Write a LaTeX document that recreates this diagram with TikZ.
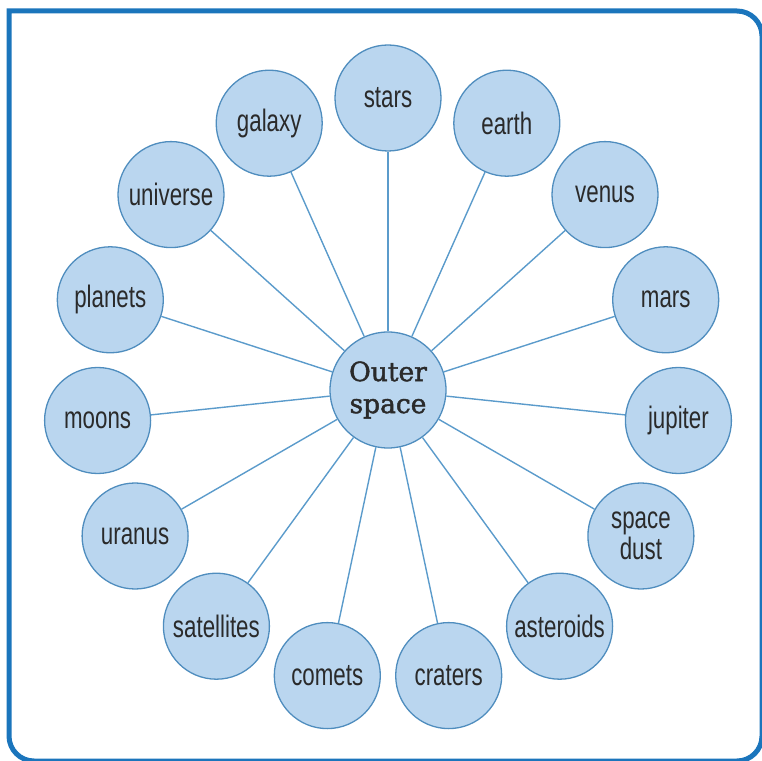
\documentclass[tikz,border=0pt]{standalone}
\usepackage{fontspec}
\usepackage{tikz}
\usetikzlibrary{positioning}
\newfontfamily\topicfont{Liberation Sans}[FakeStretch=0.72]
\newfontfamily\hubfont{DejaVu Serif}[FakeBold=1.6]
\definecolor{bubblefill}{HTML}{BAD6EF}
\definecolor{bubbleline}{HTML}{4F8DBE}
\definecolor{spokeline}{HTML}{5B9BCB}
\definecolor{frameblue}{HTML}{1B75BC}
\definecolor{inkgray}{HTML}{2A2A2A}

\tikzset{
topic/.style={circle, draw=bubbleline, fill=bubblefill, line width=1.3pt,
  minimum size=106pt, inner sep=0pt, align=center, text=inkgray,
  font=\topicfont\fontsize{31}{31}\selectfont},
hub/.style={topic, minimum size=116pt, font=\hubfont\fontsize{26.5}{32}\selectfont},
spoke/.style={draw=spokeline, line width=1.4pt},
}

\begin{document}
\begin{tikzpicture}[x=1pt, y=1pt]
\useasboundingbox (0,0) rectangle (762,760);

% Frame
\draw[frameblue, line width=5pt] (9,380) -- (9,749) -- (737,749)
  arc[start angle=90, end angle=0, radius=25pt] -- (762,24)
  arc[start angle=0, end angle=-90, radius=25pt] -- (34,-1)
  arc[start angle=270, end angle=180, radius=25pt] -- cycle;

\node[hub] (os) at (388,370) {Outer\\space};

\node[topic] (stars) at (388,662) {stars};
\node[topic] (earth) at (506.8,636.8) {earth};
\node[topic] (venus) at (605,565.4) {venus};
\node[topic] (mars) at (665.7,460.2) {mars};
\node[topic] (jupiter) at (678.4,339.5) {jupiter};
\node[topic] (dust) at (640.9,224) {space\\dust};
\node[topic] (asteroids) at (559.6,133.8) {asteroids};
\node[topic] (craters) at (448.7,84.4) {craters};
\node[topic] (comets) at (327.3,84.4) {comets};
\node[topic] (satellites) at (216.4,133.8) {satellites};
\node[topic] (uranus) at (135.1,224) {uranus};
\node[topic] (moons) at (97.6,339.5) {moons};
\node[topic] (planets) at (110.3,460.2) {planets};
\node[topic] (universe) at (171,565.4) {universe};
\node[topic] (galaxy) at (269.2,636.8) {galaxy};

% Spokes
\draw[spoke] (os) -- (stars);
\draw[spoke] (os) -- (earth);
\draw[spoke] (os) -- (venus);
\draw[spoke] (os) -- (mars);
\draw[spoke] (os) -- (jupiter);
\draw[spoke] (os) -- (dust);
\draw[spoke] (os) -- (asteroids);
\draw[spoke] (os) -- (craters);
\draw[spoke] (os) -- (comets);
\draw[spoke] (os) -- (satellites);
\draw[spoke] (os) -- (uranus);
\draw[spoke] (os) -- (moons);
\draw[spoke] (os) -- (planets);
\draw[spoke] (os) -- (universe);
\draw[spoke] (os) -- (galaxy);

\end{tikzpicture}
\end{document}
